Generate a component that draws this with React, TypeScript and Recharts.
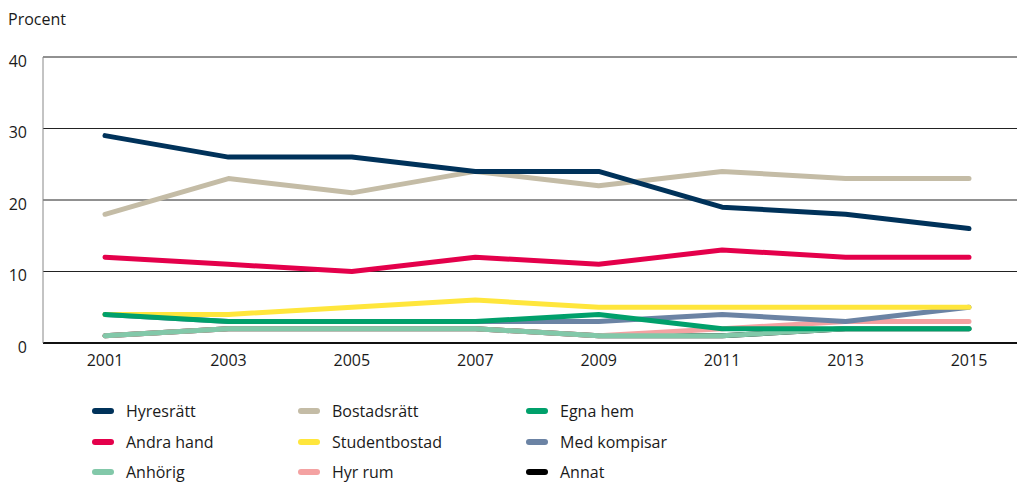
import { LineChart, Line, XAxis, YAxis, CartesianGrid } from 'recharts';

const years = ['2001', '2003', '2005', '2007', '2009', '2011', '2013', '2015'];

const hyresratt = [29, 26, 26, 24, 24, 19, 18, 16];
const bostadsratt = [18, 23, 21, 24, 22, 24, 23, 23];
const egnaHem = [4, 3, 3, 3, 4, 2, 2, 2];
const andraHand = [12, 11, 10, 12, 11, 13, 12, 12];
const studentbostad = [4, 4, 5, 6, 5, 5, 5, 5];
const medKompisar = [4, 3, 3, 3, 3, 4, 3, 5];
const anhorig = [1, 2, 2, 2, 1, 1, 2, 2];
const hyrRum = [1, 2, 2, 2, 1, 2, 3, 3];
const annat = [1, 2, 2, 2, 1, 1, 2, 2];

const yTicks = [0, 10, 20, 30, 40];

// legend order (row by row, three columns)
const series = [
  { key: 'Hyresrätt', values: hyresratt, color: '#00325a' },
  { key: 'Bostadsrätt', values: bostadsratt, color: '#c4bca6' },
  { key: 'Egna hem', values: egnaHem, color: '#00a06b' },
  { key: 'Andra hand', values: andraHand, color: '#e4004b' },
  { key: 'Studentbostad', values: studentbostad, color: '#ffe63c' },
  { key: 'Med kompisar', values: medKompisar, color: '#6b83a4' },
  { key: 'Anhörig', values: anhorig, color: '#82c8a9' },
  { key: 'Hyr rum', values: hyrRum, color: '#f4a2a2' },
  { key: 'Annat', values: annat, color: '#000000' },
];

// bottom to top
const drawOrder = [
  'Annat', 'Hyr rum', 'Anhörig', 'Med kompisar', 'Studentbostad',
  'Egna hem', 'Andra hand', 'Bostadsrätt', 'Hyresrätt',
];

const data = years.map((year, i) => {
  const row: Record<string, string | number> = { year };
  series.forEach((s) => { row[s.key] = s.values[i]; });
  return row;
});

const FONT = '"Open Sans", Lato, sans-serif';
const colX = [92, 298, 526];
const rowY = [411, 442, 472];

export default function App() {
  return (
    <div style={{ position: 'absolute', left: 0, top: 0, width: 1017, height: 482, fontFamily: FONT, color: '#1a1a1a', background: '#fff' }}>
      <div style={{ position: 'absolute', left: 8, top: 8, fontSize: 16 }}>Procent</div>
      <LineChart width={1017} height={482} data={data} margin={{ top: 57, right: 0, left: 0, bottom: 99 }}>
        <CartesianGrid vertical={false} stroke="#222" strokeWidth={1} />
        <XAxis
          dataKey="year"
          padding={{ left: 62, right: 48 }}
          axisLine={{ stroke: '#111', strokeWidth: 2 }}
          tickLine={false}
          tickSize={0}
          tickMargin={12}
          height={40}
          tick={{ fontSize: 16, fill: '#1a1a1a', fontFamily: FONT }}
        />
        <YAxis
          domain={[0, 40]}
          ticks={yTicks}
          width={43}
          axisLine={{ stroke: '#888', strokeWidth: 1 }}
          tickLine={false}
          tickSize={0}
          tickMargin={16}
          tick={{ fontSize: 16, fill: '#1a1a1a', fontFamily: FONT, dy: 4 }}
        />
        {drawOrder.map((k) => {
          const s = series.find((x) => x.key === k)!;
          return (
            <Line
              key={k}
              dataKey={k}
              stroke={s.color}
              strokeWidth={5}
              strokeLinejoin="round"
              strokeLinecap="round"
              dot={false}
              activeDot={false}
              isAnimationActive={false}
            />
          );
        })}
      </LineChart>
      {series.map((s, i) => (
        <div
          key={s.key}
          style={{
            position: 'absolute',
            left: colX[i % 3],
            top: rowY[Math.floor(i / 3)] - 12,
            height: 24,
            display: 'flex',
            alignItems: 'center',
            fontSize: 16,
          }}
        >
          <span style={{ display: 'inline-block', width: 22, height: 6, borderRadius: 3, background: s.color, marginRight: 12 }} />
          {s.key}
        </div>
      ))}
    </div>
  );
}
